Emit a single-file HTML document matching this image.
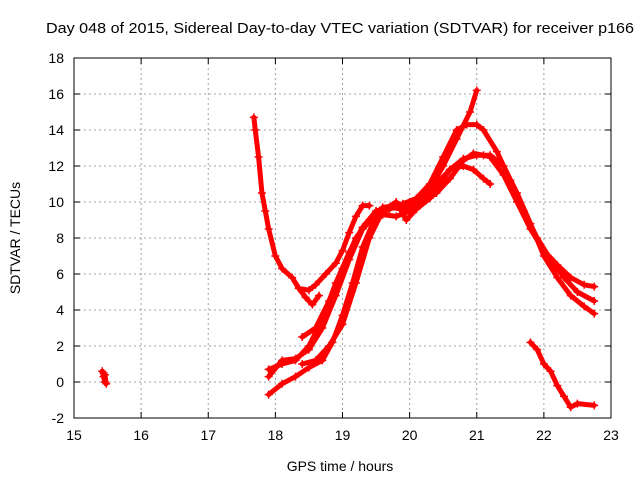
<!DOCTYPE html>
<html><head><meta charset="utf-8"><style>
body{margin:0;background:#fff;}
svg{display:block;font-family:"Liberation Sans",sans-serif;}
</style></head><body>
<svg id="chart" width="640" height="480">
<rect width="640" height="480" fill="#fff"/>
<text x="340" y="33" text-anchor="middle" font-size="15" textLength="588" lengthAdjust="spacingAndGlyphs">Day 048 of 2015, Sidereal Day-to-day VTEC variation (SDTVAR) for receiver p166</text>
<g id="grid"></g><g id="series"></g><g id="axes"></g>
<text x="340" y="471" text-anchor="middle" font-size="14">GPS time / hours</text>
<text transform="translate(20,238) rotate(-90)" text-anchor="middle" font-size="14">SDTVAR / TECUs</text>
</svg>
<script>
const xTicks=[15,16,17,18,19,20,21,22,23];
const yTicks=[-2,0,2,4,6,8,10,12,14,16,18];
const seriesSmall=[[15.42,0.6],[15.44,0.3],[15.46,0.0],[15.48,-0.1],[15.46,0.4],[15.44,0.5]];
const seriesA=[[17.68,14.7],[17.7,14.0],[17.75,12.5],[17.8,10.5],[17.85,9.5],[17.9,8.5],[18.0,7.0],[18.1,6.3],[18.25,5.8],[18.35,5.2],[18.5,5.1],[18.6,5.4],[18.75,6.0],[18.9,6.6],[19.0,7.3],[19.1,8.3],[19.2,9.2],[19.3,9.8],[19.4,9.8]];
const seriesA2=[[18.35,5.2],[18.45,4.7],[18.55,4.3],[18.65,4.8]];
const seriesB=[[17.9,-0.7],[18.1,-0.1],[18.3,0.3],[18.5,0.8],[18.7,1.2],[18.85,2.2],[19.0,3.7],[19.15,5.5],[19.3,7.5],[19.45,8.8],[19.6,9.3],[19.8,9.2],[20.0,9.5],[20.2,10.0],[20.4,10.5],[20.6,11.3],[20.8,12.3],[20.95,12.7],[21.1,12.6],[21.2,12.5],[21.4,11.5],[21.6,10.0],[21.8,8.5],[22.0,7.3],[22.2,6.5],[22.4,5.8],[22.6,5.4],[22.75,5.3]];
const seriesC=[[17.9,0.7],[18.1,1.0],[18.3,1.2],[18.5,2.0],[18.7,3.5],[18.9,5.5],[19.1,7.2],[19.3,8.6],[19.5,9.5],[19.7,9.7],[19.9,9.6],[20.1,10.0],[20.3,10.7],[20.5,12.0],[20.7,13.5],[20.9,15.0],[21.0,16.2]];
const seriesD=[[17.9,0.3],[18.1,1.2],[18.3,1.3],[18.5,1.8],[18.7,3.0],[18.9,4.8],[19.1,6.8],[19.3,8.5],[19.5,9.3],[19.7,9.6],[19.9,9.9],[20.1,10.2],[20.3,11.0],[20.5,12.5],[20.7,14.0],[20.85,14.3],[21.0,14.3],[21.1,14.0],[21.3,12.8],[21.5,11.2],[21.7,9.5],[21.9,8.0],[22.1,6.8],[22.3,5.8],[22.5,5.0],[22.75,4.5]];
const seriesE=[[18.4,2.5],[18.6,3.0],[18.8,4.5],[19.0,6.3],[19.2,8.0],[19.4,9.0],[19.6,9.7],[19.8,9.8],[20.0,10.0],[20.2,10.2],[20.4,11.0],[20.6,11.8],[20.8,12.0],[20.95,11.8],[21.1,11.3],[21.2,11.0]];
const seriesF=[[18.4,1.0],[18.6,1.2],[18.8,2.0],[19.0,3.2],[19.2,5.5],[19.4,8.0],[19.6,9.5],[19.8,10.0],[19.95,9.0],[20.1,9.6],[20.3,10.2],[20.6,11.8],[20.8,12.4],[21.0,12.6],[21.2,12.6],[21.4,12.0],[21.6,10.5],[21.8,8.8],[22.0,7.0],[22.2,5.8],[22.4,4.8],[22.6,4.2],[22.75,3.8]];
const seriesG=[[21.8,2.2],[21.9,1.8],[22.0,1.0],[22.1,0.6],[22.2,-0.2],[22.3,-0.8],[22.4,-1.4],[22.5,-1.2],[22.75,-1.3]];
const allSeries=[seriesSmall,seriesA,seriesA2,seriesB,seriesC,seriesD,seriesE,seriesF,seriesG];

const L=74,R=611,T=58,B=418;
const X=t=>L+(t-15)/(23-15)*(R-L);
const Y=v=>B-(v+2)/(20)*(B-T);
const NS="http://www.w3.org/2000/svg";
function mk(tag,attrs,parent){const e=document.createElementNS(NS,tag);for(const k in attrs)e.setAttribute(k,attrs[k]);parent.appendChild(e);return e;}
const grid=document.getElementById('grid'),axes=document.getElementById('axes'),ser=document.getElementById('series');
xTicks.forEach(t=>{
  if(t>15&&t<23){const g=mk('line',{x1:X(t),x2:X(t),y1:T,y2:B,stroke:'#a0a0a0','stroke-dasharray':'2,3'},grid);
  
  }
  mk('line',{x1:X(t),x2:X(t),y1:B,y2:B-6,stroke:'#000'},axes);
  mk('line',{x1:X(t),x2:X(t),y1:T,y2:T+6,stroke:'#000'},axes);
  const lb=mk('text',{x:X(t),y:B+22,'text-anchor':'middle','font-size':14},axes);lb.textContent=t;
  
  
});
yTicks.forEach(v=>{
  if(v>-2&&v<18){const g=mk('line',{x1:L,x2:R,y1:Y(v),y2:Y(v),stroke:'#a0a0a0','stroke-dasharray':'2,3'},grid);
  
  }
  mk('line',{x1:L,x2:L+6,y1:Y(v),y2:Y(v),stroke:'#000'},axes);
  mk('line',{x1:R,x2:R-6,y1:Y(v),y2:Y(v),stroke:'#000'},axes);
  const lb=mk('text',{x:L-10,y:Y(v)+5,'text-anchor':'end','font-size':14},axes);lb.textContent=v;
  
  
});
const frame=mk('rect',{x:L,y:T,width:R-L,height:B-T,fill:'none',stroke:'#000'},axes);


allSeries.forEach((s,i)=>{
  const g=mk('g',{},ser);
  
  
  mk('polyline',{points:s.map(p=>X(p[0])+','+Y(p[1])).join(' '),fill:'none',stroke:'#f00','stroke-width':5,'stroke-linejoin':'round','stroke-linecap':'round'},g);
  s.forEach(p=>{const x=X(p[0]),y=Y(p[1]);
    mk('path',{d:`M${x-4},${y}H${x+4}M${x},${y-4}V${y+4}`,stroke:'#f00','stroke-width':1.5},g);});
});
</script>
</body></html>
